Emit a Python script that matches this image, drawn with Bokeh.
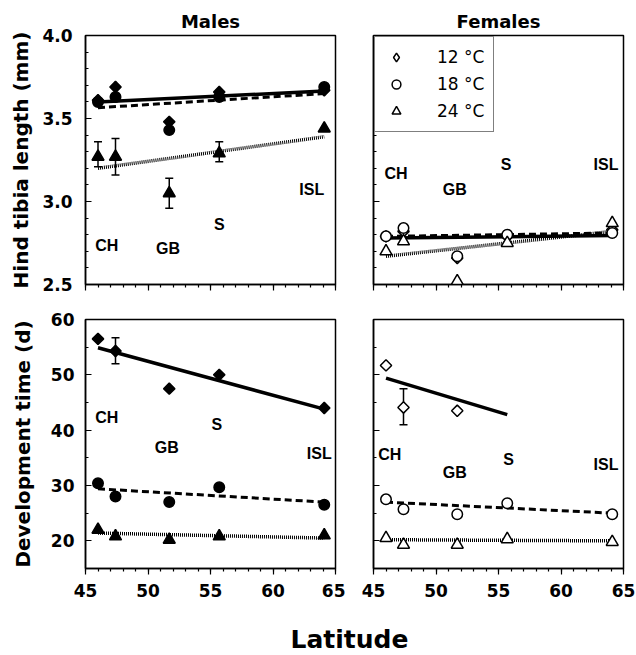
import math
from bokeh.plotting import figure
from bokeh.models import (Range1d, SingleIntervalTicker, FixedTicker, PrintfTickFormatter,
                          CustomJSTickFormatter, Whisker, TeeHead, ColumnDataSource, Legend,
                          LegendItem, Label)
from bokeh.layouts import row, column
from bokeh.embed import file_html
from bokeh.resources import INLINE
from bokeh.core.properties import value

# ---------------- data ----------------
lat = [46.0, 47.4, 51.7, 55.7, 64.1]
sites = ["CH", "GB", "S", "ISL"]
temps = ["12 °C", "18 °C", "24 °C"]

# Males, hind tibia length (mm)
m_tibia_12 = [3.61, 3.69, 3.48, 3.66, 3.67]
m_tibia_18 = [3.60, 3.63, 3.43, 3.63, 3.69]
m_tibia_24 = [3.27, 3.27, 3.05, 3.29, 3.44]
m_tibia_24_hi = [3.36, 3.38, 3.14, 3.36]
m_tibia_24_lo = [3.21, 3.16, 2.96, 3.24]
m_tibia_fit_12 = [3.60, 3.665]
m_tibia_fit_18 = [3.565, 3.65]
m_tibia_fit_24 = [3.20, 3.39]

# Females, hind tibia length (mm)
f_tibia_12 = [2.79, 2.82, 2.66, 2.79, 2.83]
f_tibia_18 = [2.79, 2.84, 2.67, 2.80, 2.81]
f_tibia_24 = [2.70, 2.76, 2.52, 2.75, 2.87]
f_tibia_fit_12 = [2.78, 2.795]
f_tibia_fit_18 = [2.79, 2.81]
f_tibia_fit_24 = [2.67, 2.82]

# Males, development time (d)
m_dev_12 = [56.5, 54.3, 47.5, 50.0, 44.0]
m_dev_18 = [30.4, 28.0, 27.0, 29.7, 26.5]
m_dev_24 = [22.0, 20.8, 20.2, 20.8, 21.0]
m_dev_12_hi = [56.7]
m_dev_12_lo = [52.0]
m_dev_fit_12 = [54.9, 43.8]
m_dev_fit_18 = [29.4, 27.0]
m_dev_fit_24 = [21.4, 20.5]

# Females, development time (d)
f_dev_12 = [51.7, 44.1, 43.5]
f_dev_18 = [27.5, 25.7, 24.8, 26.8, 24.8]
f_dev_24 = [20.5, 19.3, 19.3, 20.3, 19.8]
f_dev_12_hi = [47.5]
f_dev_12_lo = [41.0]
f_dev_fit_12 = [49.4, 42.8]
f_dev_fit_12_x = [46.0, 55.7]
f_dev_fit_18 = [27.0, 25.0]
f_dev_fit_24 = [20.2, 20.0]

fit_x = [46.0, 64.1]

# site label anchors (latitude, value) per panel
lab_x_tl = [46.7, 51.6, 55.7, 63.1]
lab_y_tl = [2.735, 2.715, 2.863, 3.07]
lab_x_tr = [46.8, 51.5, 55.6, 63.6]
lab_y_tr = [3.17, 3.07, 3.22, 3.22]
lab_x_bl = [46.7, 51.5, 55.5, 63.7]
lab_y_bl = [42.3, 36.8, 41.1, 35.8]
lab_x_br = [46.3, 51.5, 55.8, 63.6]
lab_y_br = [35.6, 32.3, 34.7, 33.8]

FONT = "DejaVu Sans"
LABFONT = "Liberation Sans"


def make_panel(yr, yticker, w, h, left, right, top, bottom, title=None, ylabel=None,
               xlabels=False, ylabels=False, ystand=13, ylab_stand=6):
    p = figure(width=w, height=h,
               x_range=Range1d(45, 65), y_range=Range1d(*yr),
               min_border_left=left, min_border_right=right,
               min_border_top=top, min_border_bottom=bottom,
               title=title, toolbar_location=None, output_backend="svg")
    if title:
        p.title.align = "center"
        p.title.text_font = FONT
        p.title.text_font_size = "18px"
        p.title.text_font_style = "bold"
        p.title.text_color = "black"
        p.title.standoff = 8
    p.grid.visible = False
    p.outline_line_color = "black"
    p.outline_line_width = 1.5
    p.background_fill_color = "white"
    p.border_fill_color = "white"

    xa = p.xaxis[0]
    xa.ticker = SingleIntervalTicker(interval=5, num_minor_ticks=5)
    xa.major_tick_out = 6
    xa.major_tick_in = 0
    xa.minor_tick_out = 3
    xa.minor_tick_in = 0
    if xlabels:
        xa.major_label_text_font = FONT
        xa.major_label_text_font_size = "17px"
        xa.major_label_text_font_style = "bold"
        xa.major_label_text_color = "black"
        xa.major_label_standoff = 9
    else:
        xa.formatter = CustomJSTickFormatter(code="return ''")
        xa.major_label_text_font_size = "1px"
        xa.major_label_standoff = 0

    ya = p.yaxis[0]
    ya.ticker = yticker
    ya.major_tick_out = 0
    ya.major_tick_in = 6
    ya.minor_tick_out = 0
    ya.minor_tick_in = 3
    if ylabels:
        ya.major_label_text_font = FONT
        ya.major_label_text_font_size = "17px"
        ya.major_label_text_font_style = "bold"
        ya.major_label_text_color = "black"
        ya.major_label_standoff = ystand
    else:
        ya.formatter = CustomJSTickFormatter(code="return ''")
        ya.major_label_text_font_size = "1px"
        ya.major_label_standoff = 0
    if ylabel:
        ya.axis_label = ylabel
        ya.axis_label_text_font = FONT
        ya.axis_label_text_font_size = "20px"
        ya.axis_label_text_font_style = "bold"
        ya.axis_label_text_color = "black"
        ya.axis_label_standoff = ylab_stand

    for ax in (xa, ya):
        ax.axis_line_color = "black"
        ax.axis_line_width = 1.5
        ax.major_tick_line_color = "black"
        ax.minor_tick_line_color = "black"
        ax.major_tick_line_width = 1.2
        ax.minor_tick_line_width = 1.2
    return p


def fits(p, xs, y12, y18, y24, x12=None):
    p.line(x12 if x12 else xs, y12, line_color="black", line_width=3.5)
    p.line(xs, y18, line_color="black", line_width=3, line_dash="7 4")
    p.line(xs, y24, line_color="black", line_width=3.5, line_dash="1 1")


def errs(p, xs, hi, lo):
    src = ColumnDataSource(dict(base=xs, upper=hi, lower=lo))
    w = Whisker(base="base", upper="upper", lower="lower", source=src,
                dimension="height", line_color="black", line_width=1.5,
                upper_head=TeeHead(size=8, line_width=1.5, line_color="black"),
                lower_head=TeeHead(size=8, line_width=1.5, line_color="black"))
    p.add_layout(w)


def points(p, x12, y12, y18, y24, filled):
    fc = "black" if filled else "white"
    # plain diamond underneath (hidden by the rotated square); used as legend swatch
    key12 = p.scatter(x12, y12, marker="diamond", size=10,
                      fill_color=fc, line_color="black", line_width=1.5)
    p.scatter(x12, y12, marker="square", angle=math.pi / 4, size=8,
              fill_color=fc, line_color="black", line_width=1.5)
    r18 = p.scatter(lat, y18, marker="circle", size=10.5,
                    fill_color=fc, line_color="black", line_width=1.5)
    r24 = p.scatter(lat, y24, marker="triangle", size=12,
                    fill_color=fc, line_color="black", line_width=1.5)
    return key12, r18, r24


def site_labels(p, xs, ys):
    p.text(x=xs, y=ys, text=sites, text_font=value(LABFONT), text_font_style="bold",
           text_font_size="16px", text_align="center", text_baseline="middle",
           text_color="black")


def dev_ticker():
    return FixedTicker(ticks=[20, 30, 40, 50, 60],
                       minor_ticks=[15, 20, 25, 30, 35, 40, 45, 50, 55, 60])


# ---------------- top-left: males, tibia ----------------
tl = make_panel((2.5, 4.0), SingleIntervalTicker(interval=0.5, num_minor_ticks=5),
                345, 298, 85, 10, 35, 14, title="Males", ylabel="Hind tibia length (mm)",
                ylabels=True, ystand=13, ylab_stand=6)
tl.yaxis[0].formatter = PrintfTickFormatter(format="%.1f")
fits(tl, fit_x, m_tibia_fit_12, m_tibia_fit_18, m_tibia_fit_24)
errs(tl, lat[:4], m_tibia_24_hi, m_tibia_24_lo)
points(tl, lat, m_tibia_12, m_tibia_18, m_tibia_24, True)
site_labels(tl, lab_x_tl, lab_y_tl)

# ---------------- top-right: females, tibia ----------------
tr = make_panel((2.5, 4.0), SingleIntervalTicker(interval=0.5, num_minor_ticks=5),
                290, 298, 28, 12, 35, 14, title="Females")
fits(tr, fit_x, f_tibia_fit_12, f_tibia_fit_18, f_tibia_fit_24)
k12, r18, r24 = points(tr, lat, f_tibia_12, f_tibia_18, f_tibia_24, False)
site_labels(tr, lab_x_tr, lab_y_tr)
legend = Legend(items=[LegendItem(label=temps[0], renderers=[k12]),
                       LegendItem(label=temps[1], renderers=[r18]),
                       LegendItem(label=temps[2], renderers=[r24])],
                location="top_left", margin=1, padding=9, spacing=5,
                glyph_width=24, glyph_height=22, label_height=22, label_standoff=29,
                label_text_font=FONT, label_text_font_size="17px", label_text_color="black",
                border_line_color="black", border_line_width=1.5,
                background_fill_color="white", background_fill_alpha=1.0)
tr.add_layout(legend)

# ---------------- bottom-left: males, development ----------------
bl = make_panel((15, 60), dev_ticker(), 345, 311, 85, 10, 21, 41,
                ylabel="Development time (d)", xlabels=True, ylabels=True,
                ystand=11, ylab_stand=13)
fits(bl, fit_x, m_dev_fit_12, m_dev_fit_18, m_dev_fit_24)
errs(bl, [lat[1]], m_dev_12_hi, m_dev_12_lo)
points(bl, lat, m_dev_12, m_dev_18, m_dev_24, True)
site_labels(bl, lab_x_bl, lab_y_bl)

# ---------------- bottom-right: females, development ----------------
br = make_panel((15, 60), dev_ticker(), 290, 311, 28, 12, 21, 41, xlabels=True)
fits(br, fit_x, f_dev_fit_12, f_dev_fit_18, f_dev_fit_24, x12=f_dev_fit_12_x)
errs(br, [lat[1]], f_dev_12_hi, f_dev_12_lo)
points(br, lat[:3], f_dev_12, f_dev_18, f_dev_24, False)
site_labels(br, lab_x_br, lab_y_br)

# ---------------- shared x-axis title ----------------
xl = figure(width=635, height=45, min_border=0, toolbar_location=None, title=None,
            x_range=Range1d(0, 635), y_range=Range1d(0, 45), output_backend="svg")
xl.axis.visible = False
xl.grid.visible = False
xl.outline_line_color = None
xl.border_fill_color = "white"
xl.add_layout(Label(x=349, y=15, x_units="screen", y_units="screen", text="Latitude",
                    text_align="center", text_baseline="middle",
                    text_font=FONT, text_font_size="25px", text_font_style="bold",
                    text_color="black"))

layout = column(row(tl, tr), row(bl, br), xl)

open("out.html", "w").write(file_html(layout, INLINE))
